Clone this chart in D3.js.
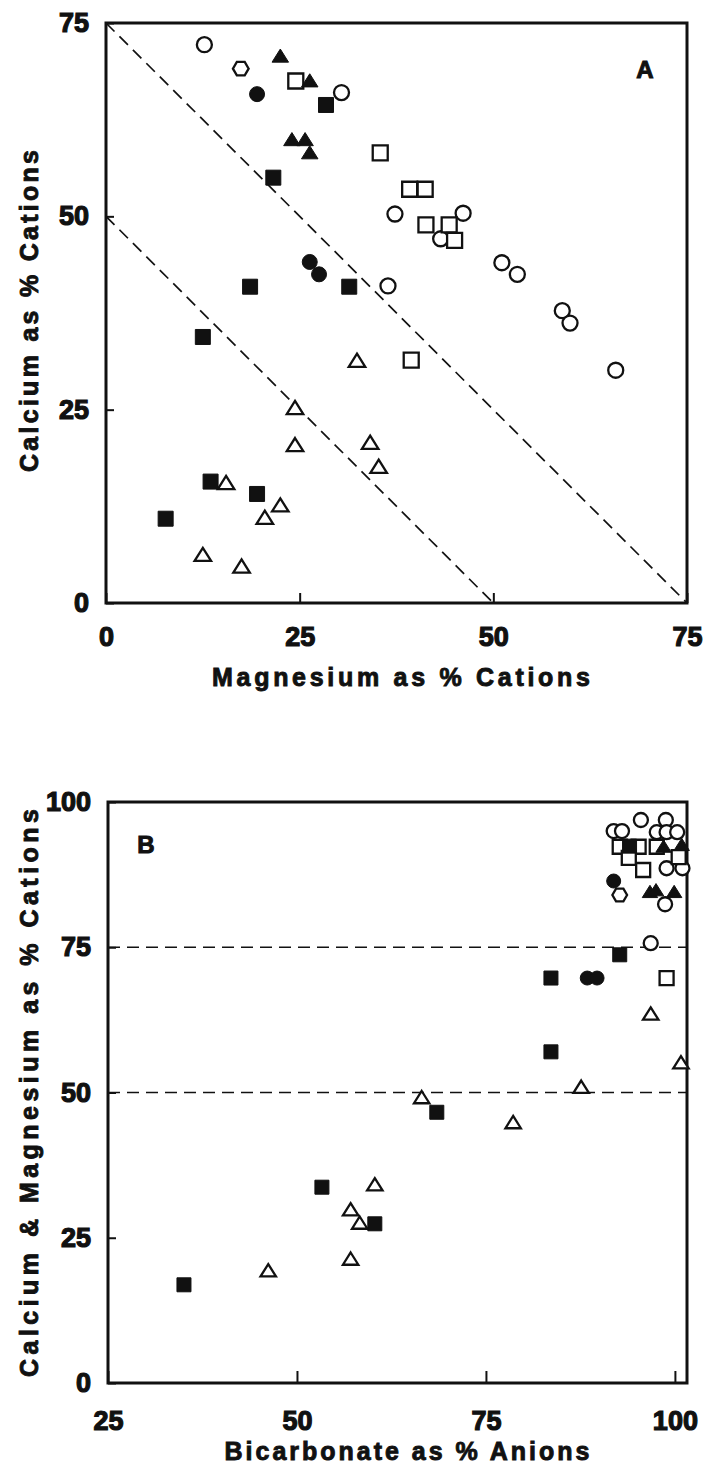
<!DOCTYPE html>
<html><head><meta charset="utf-8">
<script src="https://cdn.jsdelivr.net/npm/d3@7/dist/d3.min.js"></script>
<style>body{margin:0;background:#fff}</style>
</head><body>
<svg id="c" width="707" height="1471"></svg>
<script>
// ---------------- DATA ----------------
// Panel A: Magnesium (x) vs Calcium (y), % cations
const aOpenCircleMg   = [12.7, 30.4, 37.3, 46.1, 43.2, 51.1, 53.1, 36.4, 58.9, 59.9, 65.8];
const aOpenCircleCa   = [72.2, 66.0, 50.3, 50.4, 47.1, 44.0, 42.5, 41.0, 37.8, 36.2, 30.1];
const aOpenHexagonMg  = [17.4];
const aOpenHexagonCa  = [69.1];
const aFilledCircleMg = [19.5, 26.3, 27.5];
const aFilledCircleCa = [65.8, 44.1, 42.5];
const aFilledTriMg    = [22.5, 26.3, 24.0, 25.7, 26.3];
const aFilledTriCa    = [70.7, 67.5, 59.9, 59.9, 58.2];
const aOpenSquareMg   = [24.5, 35.4, 39.2, 41.2, 41.3, 44.3, 45.0, 39.4];
const aOpenSquareCa   = [67.5, 58.2, 53.5, 53.5, 48.9, 48.9, 46.9, 31.4];
const aFilledSquareMg = [28.4, 21.6, 18.6, 31.4, 12.5, 13.5, 19.5, 7.7];
const aFilledSquareCa = [64.4, 55.0, 40.9, 40.9, 34.4, 15.7, 14.1, 10.9];
const aOpenTriMg      = [32.4, 24.4, 24.4, 34.1, 35.2, 15.5, 22.5, 20.5, 12.5, 17.5];
const aOpenTriCa      = [31.3, 25.2, 20.4, 20.7, 17.6, 15.5, 12.6, 11.0, 6.2, 4.7];

// Panel B: Bicarbonate (x, % anions) vs Calcium & Magnesium (y, % cations)
const bOpenCircleHco3   = [95.5, 98.8, 91.9, 93.0, 97.6, 98.9, 100.3, 98.9, 101.0, 98.7, 96.8];
const bOpenCircleCaMg   = [96.9, 96.9, 95.0, 95.0, 94.8, 94.8, 94.8, 88.6, 88.6, 82.4, 75.7];
const bOpenHexagonHco3  = [92.7];
const bOpenHexagonCaMg  = [84.0];
const bFilledCircleHco3 = [91.9, 88.4, 89.7];
const bFilledCircleCaMg = [86.4, 69.7, 69.7];
const bFilledTriHco3    = [96.7, 97.5, 99.9, 98.5, 100.9];
const bFilledTriCaMg    = [84.5, 84.8, 84.5, 92.3, 92.6];
const bOpenSquareHco3   = [92.7, 95.2, 97.6, 100.5, 93.9, 95.8, 98.9];
const bOpenSquareCaMg   = [92.3, 92.3, 92.3, 90.5, 90.4, 88.3, 69.7];
const bFilledSquareHco3 = [94.0, 92.7, 83.6, 83.6, 68.5, 53.3, 60.3, 35.05];
const bFilledSquareCaMg = [92.4, 73.7, 69.7, 57.0, 46.6, 33.7, 27.4, 16.9];
const bOpenTriHco3      = [96.8, 100.8, 87.6, 66.5, 78.6, 60.3, 57.1, 58.3, 57.1, 46.2];
const bOpenTriCaMg      = [63.5, 55.1, 50.9, 49.1, 44.8, 34.1, 29.8, 27.5, 21.3, 19.3];

// Axis domains, ticks, reference lines
const aDomainX = [0, 75], aDomainY = [0, 75];
const aTicksX = [0, 25, 50, 75], aTicksY = [0, 25, 50, 75];
const aRefLines = [[0, 75, 75, 0], [0, 50, 50, 0]];
const bDomainX = [25, 101.6], bDomainY = [0, 100];
const bTicksX = [25, 50, 75, 100], bTicksY = [0, 25, 50, 75, 100];
const bRefLevels = [75, 50];

const titles = {
  aX: "Magnesium as % Cations", aY: "Calcium as % Cations", aTag: "A",
  bX: "Bicarbonate as % Anions", bY: "Calcium & Magnesium as % Cations", bTag: "B"
};

// ---------------- SYMBOLS ----------------
function sym(kind) {
  return {
    draw(ctx, size) {
      const r = Math.sqrt(size) / 2;
      if (kind === "circle") { ctx.moveTo(r, 0); ctx.arc(0, 0, r, 0, 2 * Math.PI); }
      else if (kind === "square") { ctx.rect(-r, -r, 2 * r, 2 * r); }
      else if (kind === "triangle") {
        const h = r * 1.75;
        ctx.moveTo(0, -h * 0.55); ctx.lineTo(r * 1.1, h * 0.45); ctx.lineTo(-r * 1.1, h * 0.45); ctx.closePath();
      } else if (kind === "hexagon") {
        for (let i = 0; i < 6; i++) {
          const a = i * Math.PI / 3;
          const px = r * 1.05 * Math.cos(a), py = r * 1.05 * Math.sin(a);
          i ? ctx.lineTo(px, py) : ctx.moveTo(px, py);
        }
        ctx.closePath();
      }
    }
  };
}
const styles = {
  openCircle:    {shape: "circle",   filled: false},
  openHexagon:   {shape: "hexagon",  filled: false},
  filledCircle:  {shape: "circle",   filled: true},
  filledTriangle:{shape: "triangle", filled: true},
  openSquare:    {shape: "square",   filled: false},
  filledSquare:  {shape: "square",   filled: true},
  openTriangle:  {shape: "triangle", filled: false}
};

function zip(xs, ys) { return xs.map((v, i) => ({x: v, y: ys[i]})); }

const seriesA = [
  {type: "openCircle", pts: zip(aOpenCircleMg, aOpenCircleCa)},
  {type: "openHexagon", pts: zip(aOpenHexagonMg, aOpenHexagonCa)},
  {type: "openSquare", pts: zip(aOpenSquareMg, aOpenSquareCa)},
  {type: "openTriangle", pts: zip(aOpenTriMg, aOpenTriCa)},
  {type: "filledCircle", pts: zip(aFilledCircleMg, aFilledCircleCa)},
  {type: "filledTriangle", pts: zip(aFilledTriMg, aFilledTriCa)},
  {type: "filledSquare", pts: zip(aFilledSquareMg, aFilledSquareCa)}
];
const seriesB = [
  {type: "openCircle", pts: zip(bOpenCircleHco3, bOpenCircleCaMg)},
  {type: "openHexagon", pts: zip(bOpenHexagonHco3, bOpenHexagonCaMg)},
  {type: "openSquare", pts: zip(bOpenSquareHco3, bOpenSquareCaMg)},
  {type: "openTriangle", pts: zip(bOpenTriHco3, bOpenTriCaMg)},
  {type: "filledCircle", pts: zip(bFilledCircleHco3, bFilledCircleCaMg)},
  {type: "filledTriangle", pts: zip(bFilledTriHco3, bFilledTriCaMg)},
  {type: "filledSquare", pts: zip(bFilledSquareHco3, bFilledSquareCaMg)}
];

// ---------------- DRAW ----------------
const svg = d3.select("#c");
const FONT = "'Liberation Sans', Arial, Helvetica, sans-serif";

function panel(cfg) {
  const x = d3.scaleLinear().domain(cfg.dx).range([cfg.left, cfg.right]);
  const y = d3.scaleLinear().domain(cfg.dy).range([cfg.bottom, cfg.top]);
  const g = svg.append("g");

  // reference lines
  const refG = g.append("g").attr("stroke", "#111").attr("stroke-width", 1.7)
    .attr("stroke-dasharray", "12,7").attr("fill", "none");
  (cfg.refLines || []).forEach(l => {
    refG.append("line").attr("x1", x(l[0])).attr("y1", y(l[1])).attr("x2", x(l[2])).attr("y2", y(l[3]));
  });
  (cfg.refLevels || []).forEach(v => {
    refG.append("line").attr("x1", x(cfg.dx[0])).attr("x2", x(cfg.dx[1])).attr("y1", y(v)).attr("y2", y(v));
  });

  // axes
  const ax = g.append("g").attr("transform", `translate(0,${cfg.bottom})`)
    .call(d3.axisBottom(x).tickValues(cfg.tx).tickSize(-cfg.tickLenX).tickPadding(cfg.padX).tickFormat(d3.format("d")));
  const ay = g.append("g").attr("transform", `translate(${cfg.left},0)`)
    .call(d3.axisLeft(y).tickValues(cfg.ty).tickSize(-8).tickPadding(17).tickFormat(d3.format("d")));
  [ax, ay].forEach(a => {
    a.select(".domain").remove();
    a.attr("font-size", null).attr("font-family", null);
    a.selectAll(".tick line").attr("stroke", "#111").attr("stroke-width", 2);
    a.selectAll(".tick text").attr("fill", "#111")
      .style("font-family", FONT).style("font-weight", "bold").style("font-size", "27px")
      .attr("stroke", "#111").attr("stroke-width", 1.2);
  });

  // frame
  g.append("rect").attr("x", cfg.left).attr("y", cfg.top)
    .attr("width", cfg.right - cfg.left).attr("height", cfg.bottom - cfg.top)
    .attr("fill", "none").attr("stroke", "#111").attr("stroke-width", 3);

  // points
  cfg.series.forEach(s => {
    const st = styles[s.type];
    const gen = d3.symbol().type(sym(st.shape)).size(cfg.msize * cfg.msize);
    g.append("g").selectAll("path").data(s.pts).join("path")
      .attr("transform", d => `translate(${x(d.x)},${y(d.y)})`)
      .attr("d", gen)
      .attr("fill", st.filled ? "#111" : "#fff")
      .attr("stroke", "#111")
      .attr("stroke-width", st.filled ? 1 : 2.3);
  });

  // titles
  const txt = (sel, size, sw) => sel.attr("font-family", FONT).attr("font-weight", "bold")
    .attr("font-size", size).attr("fill", "#111").attr("stroke", "#111").attr("stroke-width", sw);
  txt(g.append("text").attr("x", cfg.xTitlePos[0]).attr("y", cfg.xTitlePos[1])
    .attr("text-anchor", "middle")
    .attr("textLength", cfg.xTitleLen).attr("lengthAdjust", "spacing").text(cfg.xTitle), 25, 0.9);
  txt(g.append("text").attr("transform", `translate(${cfg.yTitlePos[0]},${cfg.yTitlePos[1]}) rotate(-90)`)
    .attr("text-anchor", "middle")
    .attr("textLength", cfg.yTitleLen).attr("lengthAdjust", "spacing").text(cfg.yTitle), 25, 0.9);
  txt(g.append("text").attr("x", cfg.tagPos[0]).attr("y", cfg.tagPos[1])
    .attr("text-anchor", "middle").text(cfg.tag), 24, 1);
}

panel({
  dx: aDomainX, dy: aDomainY, left: 106, right: 687, top: 23, bottom: 603,
  tx: aTicksX, ty: aTicksY, tickLenX: 10, padX: 24,
  refLines: aRefLines, series: seriesA, msize: 15,
  xTitlePos: [401, 686], xTitleLen: 378, xTitle: titles.aX,
  yTitlePos: [38, 311], yTitleLen: 322, yTitle: titles.aY,
  tag: titles.aTag, tagPos: [645, 78]
});
panel({
  dx: bDomainX, dy: bDomainY, left: 108, right: 687, top: 802, bottom: 1383,
  tx: bTicksX, ty: bTicksY, tickLenX: 12, padX: 28,
  refLevels: bRefLevels, series: seriesB, msize: 14,
  xTitlePos: [407, 1460], xTitleLen: 365, xTitle: titles.bX,
  yTitlePos: [38, 1093], yTitleLen: 568, yTitle: titles.bY,
  tag: titles.bTag, tagPos: [146, 853]
});
</script>
</body></html>
